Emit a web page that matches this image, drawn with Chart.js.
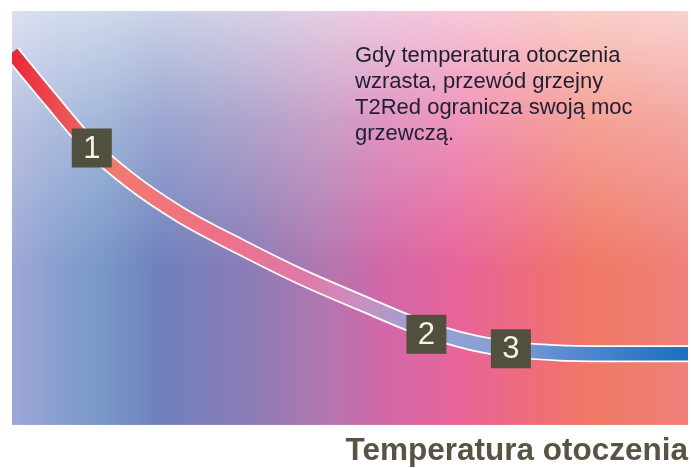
<!DOCTYPE html>
<html lang="pl">
<head>
    <meta charset="UTF-8">
    <title>Temperatura otoczenia</title>
    <script src="https://cdn.jsdelivr.net/npm/chart.js"></script>
    <style>
        html, body { margin: 0; padding: 0; background: #ffffff; }
        #wrap { width: 691px; height: 468px; }
    </style>
</head>
<body>
    <div id="wrap"><canvas id="powerChart" width="691" height="468"></canvas></div>

    <script>
        // curve: heating power vs. ambient temperature (relative units 0-100)
        const tempValues  = [0, 5.6, 11.8, 17.5, 24.9, 33.7, 42.6, 51.5, 60.4, 67.8, 73.8, 81.1, 89.9, 100];
        const powerValues = [89.9, 78.8, 67.0, 59.0, 50.8, 43.1, 35.9, 29.6, 23.6, 20.0, 18.3, 17.4, 17.2, 17.2];

        // numbered markers on the curve
        const markerLabels = ['1', '2', '3'];
        const markerTemp   = [11.8, 61.3, 73.8];
        const markerPower  = [66.9, 21.9, 18.4];

        const noteLines = [
            'Gdy temperatura otoczenia',
            'wzrasta, przewód grzejny',
            'T2Red ogranicza swoją moc',
            'grzewczą.'
        ];
        const axisTitle = 'Temperatura otoczenia';

        const points = tempValues.map((t, i) => ({ x: t, y: powerValues[i] }));

        function curveGradient(chart) {
            const area = chart.chartArea;
            if (!area) return '#e8323f';
            const g = chart.ctx.createLinearGradient(area.left, 0, area.right, 0);
            g.addColorStop(0.00, '#e8283a');
            g.addColorStop(0.15, '#f07a70');
            g.addColorStop(0.30, '#ef7086');
            g.addColorStop(0.42, '#e078a6');
            g.addColorStop(0.52, '#c890c2');
            g.addColorStop(0.60, '#9aa0d0');
            g.addColorStop(0.72, '#86a0d6');
            g.addColorStop(0.82, '#5a8ad0');
            g.addColorStop(1.00, '#1a70bc');
            return g;
        }

        // gradient background of the plot area
        const backdrop = {
            id: 'backdrop',
            beforeDatasetsDraw(chart) {
                const { ctx, chartArea: a } = chart;
                ctx.save();
                const h = ctx.createLinearGradient(a.left, 0, a.right, 0);
                h.addColorStop(0.00, '#9ea8d6');
                h.addColorStop(0.06, '#8aa0d0');
                h.addColorStop(0.13, '#7a98c8');
                h.addColorStop(0.22, '#6f80bd');
                h.addColorStop(0.35, '#8c7cb6');
                h.addColorStop(0.47, '#b476ae');
                h.addColorStop(0.545, '#d068a8');
                h.addColorStop(0.66, '#e8649a');
                h.addColorStop(0.78, '#ee6e78');
                h.addColorStop(0.86, '#f07966');
                h.addColorStop(1.00, '#ef8079');
                ctx.fillStyle = h;
                ctx.fillRect(a.left, a.top, a.width, a.height);
                const v = ctx.createLinearGradient(0, a.top, 0, a.bottom);
                v.addColorStop(0.00, 'rgba(255,255,255,0.64)');
                v.addColorStop(0.27, 'rgba(255,255,255,0.30)');
                v.addColorStop(0.62, 'rgba(255,255,255,0)');
                v.addColorStop(1.00, 'rgba(255,255,255,0)');
                ctx.fillStyle = v;
                ctx.fillRect(a.left, a.top, a.width, a.height);
                ctx.restore();
            }
        };

        // numbered boxes + note text
        const overlay = {
            id: 'overlay',
            afterDatasetsDraw(chart) {
                const { ctx, scales } = chart;
                ctx.save();
                markerLabels.forEach((lbl, i) => {
                    const px = scales.x.getPixelForValue(markerTemp[i]);
                    const py = scales.y.getPixelForValue(markerPower[i]);
                    ctx.fillStyle = '#51503f';
                    ctx.fillRect(px - 20, py - 19.5, 40, 39);
                    ctx.fillStyle = '#f6f2e6';
                    ctx.font = '31px "Liberation Sans", Arial, sans-serif';
                    ctx.textAlign = 'center';
                    ctx.textBaseline = 'middle';
                    ctx.fillText(lbl, px, py + 1);
                });
                ctx.fillStyle = '#1f1f33';
                ctx.font = '22px "Liberation Sans", Arial, sans-serif';
                ctx.textAlign = 'left';
                ctx.textBaseline = 'alphabetic';
                noteLines.forEach((line, i) => {
                    ctx.fillText(line, 355, 62 + i * 26);
                });
                ctx.restore();
            }
        };

        new Chart(document.getElementById('powerChart'), {
            type: 'line',
            data: {
                datasets: [
                    {
                        label: 'outline',
                        data: points,
                        borderColor: '#ffffff',
                        borderWidth: 17,
                        pointRadius: 0,
                        cubicInterpolationMode: 'monotone',
                        clip: 0,
                        order: 2
                    },
                    {
                        label: 'power',
                        data: points,
                        borderColor: (c) => curveGradient(c.chart),
                        borderWidth: 13.5,
                        pointRadius: 0,
                        cubicInterpolationMode: 'monotone',
                        clip: 0,
                        order: 1
                    }
                ]
            },
            options: {
                responsive: false,
                animation: false,
                events: [],
                layout: { padding: { left: 12, top: 11, right: 3, bottom: 0 } },
                plugins: { legend: { display: false }, tooltip: { enabled: false } },
                scales: {
                    x: {
                        type: 'linear', min: 0, max: 100,
                        grid: { display: false, drawTicks: false },
                        border: { display: false },
                        ticks: { display: false },
                        title: {
                            display: true,
                            text: axisTitle,
                            align: 'end',
                            color: '#5a5344',
                            font: { family: '"Liberation Sans", Arial', size: 31.5, weight: 'bold', lineHeight: 1.05 },
                            padding: { top: 10, bottom: 0 }
                        }
                    },
                    y: { display: false, min: 0, max: 100 }
                }
            },
            plugins: [backdrop, overlay]
        });
    </script>
</body>
</html>
